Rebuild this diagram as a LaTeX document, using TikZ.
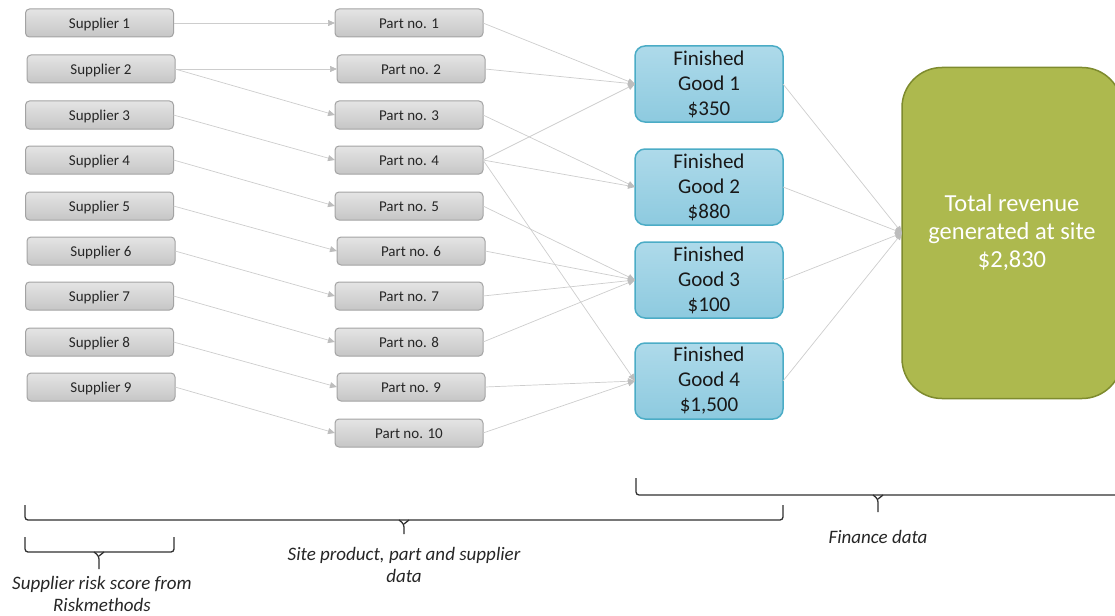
\documentclass[tikz,border=0pt]{standalone}
\usepackage{fontspec}
\setmainfont{Carlito}
\usetikzlibrary{arrows.meta}
\definecolor{lnk}{HTML}{CDCDCD}
\definecolor{tipc}{HTML}{BDBDBD}
\definecolor{gbord}{HTML}{A3A3A3}
\definecolor{gtop}{HTML}{E4E4E4}
\definecolor{gbot}{HTML}{C6C6C6}
\definecolor{btop}{HTML}{AEDAEA}
\definecolor{bbot}{HTML}{8DCADF}
\definecolor{bbord}{HTML}{4BACC6}
\definecolor{olive}{HTML}{ADB94E}
\definecolor{oliveb}{HTML}{7E8B2E}
\definecolor{brc}{HTML}{303030}
\tikzset{
  gbox/.style={draw=gbord, line width=1pt, rounded corners=4pt, top color=gtop, bottom color=gbot,
    minimum width=148pt, minimum height=28pt, inner sep=0pt, outer sep=0pt,
    text height=11pt, text depth=0.5pt,
    font=\fontsize{15}{17}\selectfont, text=black!85},
  fgbox/.style={draw=bbord, line width=1.5pt, rounded corners=10pt, top color=btop, bottom color=bbot,
    minimum width=148pt, minimum height=76pt, inner sep=0pt, outer sep=0pt, align=center,
    font=\fontsize{21}{25}\selectfont, text=black!90},
  trbox/.style={draw=oliveb, line width=1.5pt, rounded corners=40pt, fill=olive,
    minimum width=220pt, minimum height=331pt, inner sep=0pt, outer sep=0pt, align=center,
    font=\fontsize{24.5}{28}\selectfont, text=white},
  link/.style={draw=lnk, line width=0.7pt, -{Triangle[length=7pt,width=6pt,color=tipc]}},
  brace/.style={draw=brc, line width=1.3pt, rounded corners=3pt},
  lbl/.style={align=center, font=\itshape\fontsize{19}{22.5}\selectfont, text=black!85, inner sep=0pt}
}
\begin{document}
\begin{tikzpicture}[x=1pt,y=-1pt]
\useasboundingbox (0,0) rectangle (1115,615);
% suppliers
\node[gbox] (s1) at (99.5,23) {Supplier 1};
\node[gbox] (s2) at (101,69) {Supplier 2};
\node[gbox] (s3) at (99.5,115) {Supplier 3};
\node[gbox] (s4) at (99.5,160) {Supplier 4};
\node[gbox] (s5) at (99.5,206) {Supplier 5};
\node[gbox] (s6) at (101,251) {Supplier 6};
\node[gbox] (s7) at (99.5,296) {Supplier 7};
\node[gbox] (s8) at (99.5,342) {Supplier 8};
\node[gbox] (s9) at (101,387) {Supplier 9};
% parts
\node[gbox] (p1) at (409,23) {Part no. 1};
\node[gbox] (p2) at (411,69) {Part no. 2};
\node[gbox] (p3) at (409,115) {Part no. 3};
\node[gbox] (p4) at (409,160) {Part no. 4};
\node[gbox] (p5) at (409,206) {Part no. 5};
\node[gbox] (p6) at (411,251) {Part no. 6};
\node[gbox] (p7) at (409,296) {Part no. 7};
\node[gbox] (p8) at (409,342) {Part no. 8};
\node[gbox] (p9) at (411,387) {Part no. 9};
\node[gbox] (p10) at (409,433) {Part no. 10};
% finished goods
\node[fgbox] (f1) at (709,84) {Finished\\Good 1\\\$350};
\node[fgbox] (f2) at (709,187) {Finished\\Good 2\\\$880};
\node[fgbox] (f3) at (709,280) {Finished\\Good 3\\\$100};
\node[fgbox] (f4) at (709,381) {Finished\\Good 4\\\$1,500};
% total
\node[trbox] (tr) at (1012,233) {Total revenue\\generated at site\\\$2,830};
% supplier -> part
\draw[link] (s1.east) -- (p1.west);
\draw[link] (s2.east) -- (p2.west);
\draw[link] (s2.east) -- (p3.west);
\draw[link] (s3.east) -- (p4.west);
\draw[link] (s4.east) -- (p5.west);
\draw[link] (s5.east) -- (p6.west);
\draw[link] (s6.east) -- (p7.west);
\draw[link] (s7.east) -- (p8.west);
\draw[link] (s8.east) -- (p9.west);
\draw[link] (s9.east) -- (p10.west);
% part -> finished good
\draw[link] (p1.east) -- (f1.west);
\draw[link] (p2.east) -- (f1.west);
\draw[link] (p4.east) -- (f1.west);
\draw[link] (p3.east) -- (f2.west);
\draw[link] (p4.east) -- (f2.west);
\draw[link] (p4.east) -- (f4.west);
\draw[link] (p5.east) -- (f3.west);
\draw[link] (p6.east) -- (f3.west);
\draw[link] (p7.east) -- (f3.west);
\draw[link] (p8.east) -- (f3.west);
\draw[link] (p9.east) -- (f4.west);
\draw[link] (p10.east) -- (f4.west);
% finished good -> total
\draw[link] (f1.east) -- (tr.west);
\draw[link] (f2.east) -- (tr.west);
\draw[link] (f3.east) -- (tr.west);
\draw[link] (f4.east) -- (tr.west);
% braces
\coordinate (fb) at (878,512);
\draw[brace] (636,478) -- (636,495) -- (1125,495);
\draw[brace] (873,495) -- (878,499) -- (fb);
\draw[brace] (878,499) -- (883,495);
\coordinate (sb) at (404,534);
\draw[brace] (25,505) -- (25,520) -- (783,520) -- (783,505);
\draw[brace] (399,520) -- (404,524) -- (sb);
\draw[brace] (404,524) -- (409,520);
\coordinate (rb) at (99,569);
\draw[brace] (25,537) -- (25,552) -- (174,552) -- (174,537);
\draw[brace] (94,552) -- (99,556) -- (rb);
\draw[brace] (99,556) -- (104,552);
% labels
\node[lbl] (lf) at (878,537) {Finance data};
\node[lbl] (ls) at (404,565) {Site product, part and supplier\\data};
\node[lbl] (lr) at (102,594) {Supplier risk score from\\Riskmethods};
\end{tikzpicture}
\end{document}
